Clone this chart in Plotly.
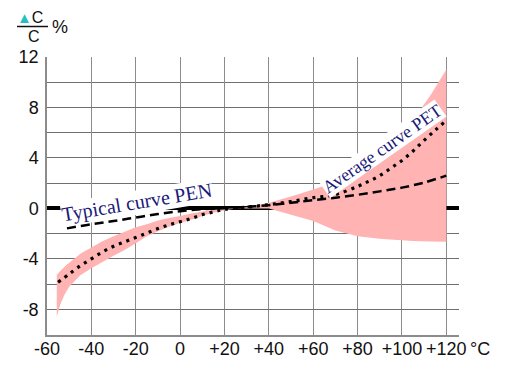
import plotly.graph_objects as go

# ---- data ----
band_temp = [-55.6, -54, -52, -50, -45, -40, -35, -30, -25, -20, -15, -10, -5, 0, 5, 10, 15, 20, 25,
             30, 40, 50, 60, 70, 80, 90, 98, 105, 113, 120]
band_upper = [-5.25, -4.95, -4.6, -4.3, -3.6, -3.1, -2.6, -2.2, -1.85, -1.5, -1.25, -0.95, -0.75, -0.6,
              -0.4, -0.25, -0.12, -0.03, 0.0, 0.1, 0.45, 0.95, 1.5, 2.1, 3.0, 4.1, 5.4, 7.0, 9.0, 11.0]
band_lower = [-8.6, -7.6, -6.8, -6.2, -5.3, -4.75, -4.25, -3.75, -3.3, -2.75, -2.2, -1.8, -1.45, -1.15,
              -0.9, -0.6, -0.35, -0.15, 0.0, 0.0, 0.0, -0.5, -1.0, -1.75, -2.2, -2.4, -2.5, -2.58, -2.63, -2.65]

pet_temp = [-55, -50, -45, -40, -35, -30, -25, -20, -15, -10, -5, 0, 5, 10, 15, 20, 30, 40, 50, 60,
            70, 80, 85, 90, 95, 100, 105, 110, 115, 119.5]
pet_avg = [-5.85, -5.2, -4.55, -4.0, -3.45, -3.0, -2.65, -2.3, -1.95, -1.6, -1.3, -1.05, -0.8, -0.5,
           -0.28, -0.08, 0.1, 0.3, 0.55, 0.85, 1.1, 1.75, 2.15, 2.6, 3.2, 3.8, 4.55, 5.4, 6.2, 6.9]

pen_temp = [-51, -40, -30, -20, -10, 0, 10, 20, 30, 40, 50, 60, 70, 80, 90, 100, 110, 120]
pen_typ = [-1.58, -1.25, -1.0, -0.72, -0.45, -0.22, -0.06, 0.02, 0.12, 0.26, 0.45, 0.65, 0.85, 1.08,
           1.35, 1.65, 2.05, 2.6]

x_ticks = [-60, -40, -20, 0, 20, 40, 60, 80, 100, 120]
x_tick_labels = ["-60", "-40", "-20", "0", "+20", "+40", "+60", "+80", "+100", "+120"]
y_ticks = [-8, -4, 0, 4, 8, 12]
y_tick_labels = ["-8", "-4", "0", "4", "8", "12"]

label_pen = "Typical curve PEN"
label_pet = "Average curve PET"

# ---- figure ----
fig = go.Figure()

fig.add_trace(go.Scatter(
    x=band_temp + band_temp[::-1],
    y=band_upper + band_lower[::-1],
    fill="toself", fillcolor="#ffb3b3", mode="none", hoverinfo="skip", showlegend=False))

fig.add_trace(go.Scatter(
    x=pen_temp, y=pen_typ, mode="lines",
    line=dict(color="black", width=2.5, dash="9px,5px", shape="spline"), showlegend=False))

fig.add_trace(go.Scatter(
    x=pet_temp, y=pet_avg, mode="lines",
    line=dict(color="black", width=3.2, dash="3px,5px", shape="spline"), showlegend=False))

fig.add_annotation(x=-19.4, y=0.45, text=label_pen, showarrow=False, textangle=-9.5,
                   font=dict(family="Liberation Serif, Times New Roman, serif", size=20, color="#1a1a78"),
                   bgcolor="white", borderpad=0)
fig.add_annotation(x=91, y=4.7, text=label_pet, showarrow=False, textangle=-35,
                   font=dict(family="Liberation Serif, Times New Roman, serif", size=18, color="#1a1a78"),
                   bgcolor="white", borderpad=0)

tick_font = dict(family="Liberation Sans, Arial, sans-serif", size=18, color="#111111")
title_font = dict(family="Liberation Sans, Arial, sans-serif", size=16, color="#111111")

# unit label on the x axis
fig.add_annotation(xref="paper", yref="paper", x=1.022, y=-0.05, xanchor="left", yanchor="middle",
                   text="°C", showarrow=False, font=tick_font)

# y axis title: ΔC / C %
fig.add_annotation(xref="paper", yref="paper", x=-0.0413, y=1.1421, xanchor="center", yanchor="middle",
                   text="<span style='color:#22c0c0;font-size:15px'>▲</span>C",
                   showarrow=False, font=title_font, borderpad=0)
fig.add_annotation(xref="paper", yref="paper", x=-0.0316, y=1.0755, xanchor="center", yanchor="middle",
                   text="C", showarrow=False, font=title_font, borderpad=0)
fig.add_annotation(xref="paper", yref="paper", x=0.0316, y=1.108, xanchor="center", yanchor="middle",
                   text="%", showarrow=False, borderpad=0,
                   font=dict(family="Liberation Sans, Arial, sans-serif", size=18, color="#111111"))
fig.add_shape(type="line", xref="paper", yref="paper", x0=-0.0728, x1=0.0024, y0=1.1097, y1=1.1097,
              line=dict(color="#111111", width=1.5))

# the page body adds an 8px offset, so margins are shifted to keep the plot in place
fig.update_layout(
    width=512, height=382,
    margin=dict(l=39, r=61, t=49, b=55),
    paper_bgcolor="white", plot_bgcolor="white",
    showlegend=False,
    xaxis=dict(range=[-60, 125.7], tickvals=x_ticks, ticktext=x_tick_labels, tickfont=tick_font,
               showgrid=True, gridcolor="#8c8c8c", gridwidth=1.2,
               showline=True, linecolor="#8c8c8c", linewidth=1.5,
               zeroline=False, ticks="", ticklabelstandoff=-3),
    yaxis=dict(range=[-10.03, 12.0], tickvals=y_ticks, ticktext=y_tick_labels, tickfont=tick_font,
               showgrid=True, gridcolor="#707070", gridwidth=1,
               minor=dict(dtick=2, tick0=0, showgrid=True, gridcolor="#707070", gridwidth=1),
               showline=True, linecolor="#8c8c8c", linewidth=1.5,
               zeroline=True, zerolinecolor="black", zerolinewidth=3.5, ticks="",
               ticklabelstandoff=3),
)

fig.write_html("out.html")
